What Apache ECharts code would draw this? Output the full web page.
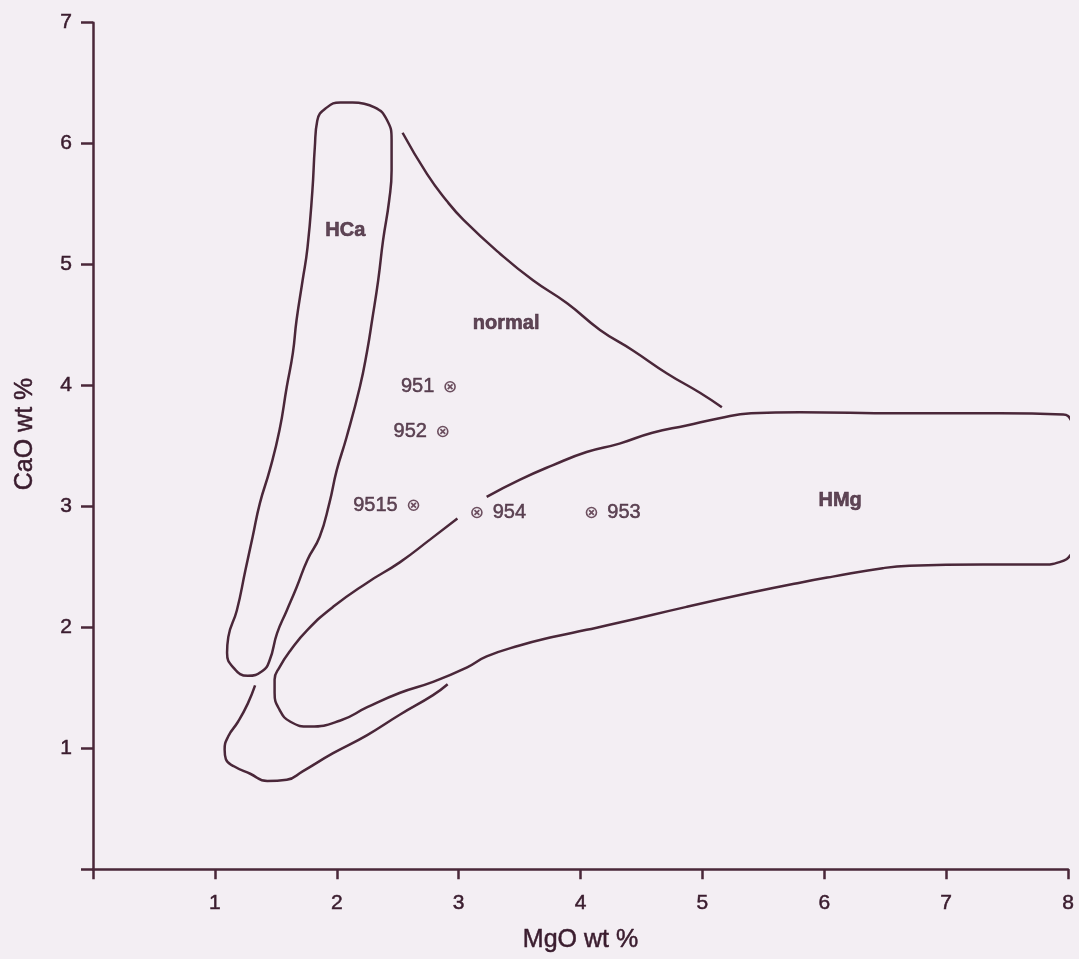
<!DOCTYPE html>
<html>
<head>
<meta charset="utf-8">
<script src="https://cdn.jsdelivr.net/npm/echarts@6/dist/echarts.min.js"></script>
<style>
html,body{margin:0;padding:0;background:#f3eef3;}
#chart{width:1079px;height:959px;}
</style>
</head>
<body>
<div id="chart"></div>
<script>
// Axis ticks
const xTicks = [0,1,2,3,4,5,6,7,8];
const yTicks = [0,1,2,3,4,5,6,7];

// HCa field (closed loop)
const hcaMgO = [2.13,2.31,2.41,2.45,2.45,2.43,2.38,2.34,2.29,2.25,2.19,2.08,2.00,1.94,1.86,1.76,1.67,1.59,1.51,1.45,1.39,1.27,1.15,1.10,1.11,1.18,1.25,1.31,1.37,1.45,1.53,1.59,1.64,1.67,1.72,1.76,1.80,1.82,1.84,1.92,2.03,2.13];
const hcaCaO = [6.34,6.30,6.20,6.03,5.78,5.53,5.20,4.87,4.54,4.29,3.99,3.57,3.30,3.03,2.75,2.56,2.33,2.14,1.95,1.73,1.64,1.60,1.67,1.79,1.92,2.14,2.47,2.75,3.03,3.30,3.63,3.99,4.27,4.54,4.87,5.14,5.61,5.97,6.19,6.30,6.34,6.34];

// "normal" field boundary (open curve)
const normMgO = [2.54,2.74,2.90,3.04,3.34,3.61,3.89,4.16,4.43,4.71,4.98,5.16];
const normCaO = [6.09,5.75,5.53,5.37,5.09,4.87,4.68,4.46,4.29,4.10,3.94,3.82];

// HMg field (nearly closed, gap near sample 954)
const hmgMgO = [3.23,3.50,3.77,4.05,4.32,4.59,4.87,5.14,5.40,5.80,6.62,7.44,7.96,8.04,8.065,8.065,8.065,8.03,7.93,7.79,7.30,6.70,6.48,6.07,5.80,5.41,4.87,4.32,4.05,3.77,3.50,3.23,3.07,2.79,2.52,2.25,2.03,1.78,1.62,1.53,1.49,1.49,1.53,1.62,1.76,1.97,2.25,2.52,2.77,2.99];
const hmgCaO = [3.08,3.22,3.34,3.45,3.52,3.61,3.67,3.73,3.77,3.78,3.77,3.77,3.76,3.69,3.61,3.22,2.72,2.61,2.54,2.52,2.52,2.51,2.49,2.42,2.37,2.29,2.17,2.04,1.98,1.92,1.85,1.76,1.67,1.55,1.46,1.34,1.23,1.18,1.22,1.32,1.46,1.57,1.67,1.81,1.98,2.17,2.37,2.54,2.73,2.90];

// Lower V-shaped curve (open)
const lowMgO = [1.33,1.27,1.19,1.11,1.08,1.09,1.16,1.29,1.43,1.59,1.72,1.97,2.25,2.52,2.79,2.91];
const lowCaO = [1.52,1.37,1.22,1.10,0.99,0.91,0.85,0.79,0.73,0.74,0.81,0.96,1.11,1.28,1.44,1.53];

// Samples
const sampleNames = ['951','952','9515','954','953'];
const sampleMgO = [2.93,2.87,2.63,3.15,4.09];
const sampleCaO = [3.99,3.62,3.01,2.95,2.95];
const sampleLabelSide = ['left','left','left','right','right'];

// Field labels
const fieldNames = ['HCa','normal','HMg'];
const fieldMgO = [2.07,3.39,6.13];
const fieldCaO = [5.28,4.51,3.05];

const INK = '#4a2739';
const TEXT = '#3a1c2e';
const FONT = '"Liberation Sans", Arial, Helvetica, sans-serif';

function pts(xs, ys){ return xs.map((x,i)=>[x, ys[i]]); }

function curve(xs, ys){
  return {
    type:'line', data: pts(xs, ys), smooth: 0.5, symbol:'none', showSymbol:false,
    clip:false, silent:true,
    lineStyle:{color:INK, width:2.5}
  };
}

const crossPath = 'path://M2,0 L5,3 L8,0 L10,2 L7,5 L10,8 L8,10 L5,7 L2,10 L0,8 L3,5 L0,2 Z';
const thick = {textBorderColor:TEXT, textBorderWidth:0.5};

const chart = echarts.init(document.getElementById('chart'), null, {renderer:'canvas'});
chart.setOption({
  backgroundColor:'#f3eef3',
  animation:false,
  grid:{left:93, right:11, top:22.7, bottom:89.7, containLabel:false},
  xAxis:{
    type:'value', min:xTicks[0], max:xTicks[xTicks.length-1], interval:1,
    name:'MgO wt %', nameLocation:'middle', nameGap:58,
    nameTextStyle:Object.assign({color:TEXT, fontSize:25, fontFamily:FONT}, thick),
    axisLine:{onZero:false, lineStyle:{color:INK, width:2.5}},
    axisTick:{length:10, lineStyle:{color:INK, width:2.5}},
    axisLabel:Object.assign({color:TEXT, fontSize:21, fontFamily:FONT, margin:23,
      formatter: v => v === 0 ? '' : String(v)}, thick),
    splitLine:{show:false}
  },
  yAxis:{
    type:'value', min:yTicks[0], max:yTicks[yTicks.length-1], interval:1,
    name:'CaO wt %', nameLocation:'middle', nameGap:55,
    nameTextStyle:Object.assign({color:TEXT, fontSize:25, fontFamily:FONT, padding:[0,0,0,24]}, thick),
    axisLine:{onZero:false, lineStyle:{color:INK, width:2.5}},
    axisTick:{length:12, lineStyle:{color:INK, width:2.5}},
    axisLabel:Object.assign({color:TEXT, fontSize:21, fontFamily:FONT, margin:21,
      formatter: v => v === 0 ? '' : String(v)}, thick),
    splitLine:{show:false}
  },
  series:[
    curve(hcaMgO, hcaCaO),
    curve(normMgO, normCaO),
    curve(hmgMgO, hmgCaO),
    curve(lowMgO, lowCaO),
    {
      type:'scatter', silent:true,
      data: sampleNames.map((n,i)=>({
        name:n, value:[sampleMgO[i], sampleCaO[i]],
        label:Object.assign({show:true, position:sampleLabelSide[i], distance:10, formatter:n,
          color:TEXT, fontSize:20, fontFamily:FONT}, thick)
      })),
      symbol:'circle', symbolSize:10,
      itemStyle:{color:'rgba(0,0,0,0)', borderColor:INK, borderWidth:1.6}
    },
    {
      type:'scatter', silent:true,
      data: pts(sampleMgO, sampleCaO),
      symbol:crossPath, symbolSize:6,
      itemStyle:{color:INK}
    },
    {
      type:'scatter', silent:true,
      data: fieldNames.map((n,i)=>({name:n, value:[fieldMgO[i], fieldCaO[i]]})),
      symbolSize:0,
      label:{show:true, position:'inside', formatter:p=>p.name,
        color:TEXT, fontSize:20, fontWeight:'bold', fontFamily:FONT,
        textBorderColor:TEXT, textBorderWidth:0.6}
    }
  ]
});
</script>
</body>
</html>
